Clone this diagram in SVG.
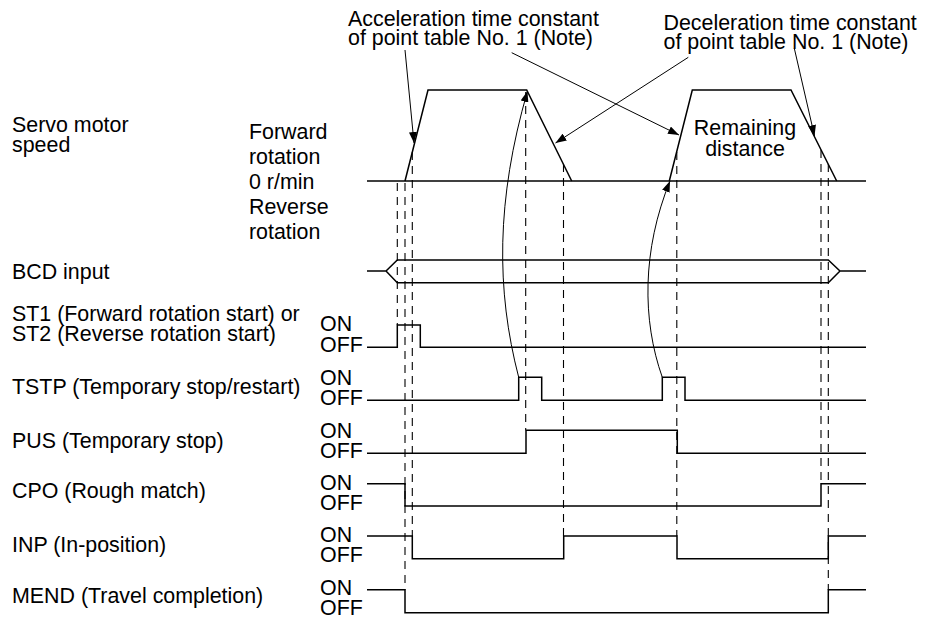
<svg xmlns="http://www.w3.org/2000/svg" width="929" height="619" viewBox="0 0 929 619">
<style>
text{font-family:"Liberation Sans",Arial,sans-serif;font-size:21.4px;fill:#000}
.sig{fill:none;stroke:#000;stroke-width:1.5}
.dash{fill:none;stroke:#000;stroke-width:1.1;stroke-dasharray:8 6}
.ann{fill:none;stroke:#000;stroke-width:1}
</style>
<defs>
<marker id="ah" markerWidth="12" markerHeight="8" refX="11" refY="4" orient="auto" markerUnits="userSpaceOnUse"><path d="M0,0 L11,4 L0,8 z" fill="#000"/></marker>
</defs>
<rect width="929" height="619" fill="#fff"/>

<g id="note-accel">
<text x="348" y="25.5">Acceleration time constant</text>
<text x="348" y="44.5">of point table No. 1 (Note)</text>
</g>
<g id="note-decel">
<text x="663.5" y="29.5">Deceleration time constant</text>
<text x="663.5" y="48.5">of point table No. 1 (Note)</text>
</g>

<g id="speed">
<text x="12" y="131.5">Servo motor</text>
<text x="12" y="151.5">speed</text>
<text x="249" y="139.3">Forward</text>
<text x="249" y="164.3">rotation</text>
<text x="249" y="189.3">0 r/min</text>
<text x="249" y="214.3">Reverse</text>
<text x="249" y="239.3">rotation</text>
<path class="sig" d="M367,181 H866"/>
<path class="sig" d="M405,181 L428,90 H526.7 L571.7,181"/>
<path class="sig" d="M669.3,181 L692.3,90 H791 L836.7,181"/>
<text x="745" y="135" text-anchor="middle">Remaining</text>
<text x="745" y="156" text-anchor="middle">distance</text>
</g>

<g id="bcd">
<text x="12" y="279">BCD input</text>
<path class="sig" d="M367,271 H386 L397.3,260 H828.3 L840,271 H866 M386,271 L397.3,282.7 H828.3 L840,271"/>
</g>

<g id="st">
<text x="12" y="320.5">ST1 (Forward rotation start) or</text>
<text x="12" y="341">ST2 (Reverse rotation start)</text>
<text x="320" y="331">ON</text>
<text x="320" y="352">OFF</text>
<path class="sig" d="M367,347.3 H397.3 V325 H420.3 V347.3 H866"/>
</g>

<g id="tstp">
<text x="12" y="394">TSTP (Temporary stop/restart)</text>
<text x="320" y="384.5">ON</text>
<text x="320" y="404.5">OFF</text>
<path class="sig" d="M367,400.3 H518.7 V377.3 H541.7 V400.3 H662.3 V377.3 H685 V400.3 H866"/>
</g>

<g id="pus">
<text x="12" y="448">PUS (Temporary stop)</text>
<text x="320" y="438">ON</text>
<text x="320" y="458">OFF</text>
<path class="sig" d="M367,453.3 H526 V430.3 H677.3 V453.3 H866"/>
</g>

<g id="cpo">
<text x="12" y="498">CPO (Rough match)</text>
<text x="320" y="490">ON</text>
<text x="320" y="510">OFF</text>
<path class="sig" d="M367,483.7 H405 V506 H821 V483.7 H866"/>
</g>

<g id="inp">
<text x="12" y="552">INP (In-position)</text>
<text x="320" y="542">ON</text>
<text x="320" y="562">OFF</text>
<path class="sig" d="M367,536 H412.3 V558.7 H563.7 V536 H677 V558.7 H828.3 V536 H866"/>
</g>

<g id="mend">
<text x="12" y="603">MEND (Travel completion)</text>
<text x="320" y="594.5">ON</text>
<text x="320" y="614.5">OFF</text>
<path class="sig" d="M367,589.7 H405 V612.7 H828.3 V589.7 H866"/>
</g>

<g id="connectors">
<path class="dash" d="M397.3,183 V325"/>
<path class="dash" d="M405,183 V589.7"/>
<path class="dash" d="M412.3,152 V536"/>
<path class="dash" d="M525.7,92 V430.3"/>
<path class="dash" d="M563.5,164 V536"/>
<path class="dash" d="M676.8,152 V536"/>
<path class="dash" d="M821,150 V483.7"/>
<path class="dash" d="M828.3,164 V589.7"/>
<path class="ann" d="M405,50 L414,143" marker-end="url(#ah)"/>
<path class="ann" d="M511.7,52.7 L679,135" marker-end="url(#ah)"/>
<path class="ann" d="M688.3,57.3 L555.5,143" marker-end="url(#ah)"/>
<path class="ann" d="M794.3,48.3 L814.5,136" marker-end="url(#ah)"/>
<path class="ann" d="M518.7,377.3 C496,290 496,200 527.5,91" marker-end="url(#ah)"/>
<path class="ann" d="M662.3,377.3 C642,320 642,250 670,181" marker-end="url(#ah)"/>
</g>
</svg>
